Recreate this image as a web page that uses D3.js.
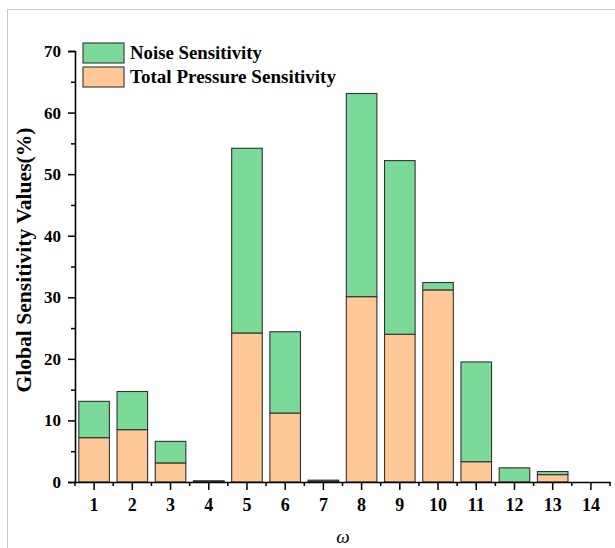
<!DOCTYPE html>
<html>
<head>
<meta charset="utf-8">
<script src="https://cdn.jsdelivr.net/npm/d3@7/dist/d3.min.js"></script>
<style>
  html, body { margin: 0; padding: 0; background: #fff; }
  svg { display: block; }
  text { font-family: "Liberation Serif", "Times New Roman", serif; }
</style>
</head>
<body>
<svg id="chart" width="615" height="548"></svg>
<script>
// ω settings on the x axis
const categories = ["1", "2", "3", "4", "5", "6", "7", "8", "9", "10", "11", "12", "13", "14"];
// Total pressure sensitivity share (%), lower segment
const pressureValues = [7.2, 8.5, 3.1, 0.1, 24.2, 11.2, 0.1, 30.1, 24.0, 31.2, 3.3, 0.0, 1.2, 0.0];
// Noise sensitivity share (%), stacked on top
const noiseValues = [5.9, 6.2, 3.5, 0.1, 30.0, 13.2, 0.2, 33.0, 28.2, 1.2, 16.2, 2.3, 0.5, 0.0];
const yTicks = [0, 10, 20, 30, 40, 50, 60, 70];
const seriesNames = ["Total Pressure Sensitivity", "Noise Sensitivity"];
const seriesColors = ["#ffc896", "#7bd99a"];

const svg = d3.select("#chart");
const plotLeft = 75, plotRight = 610, plotTop = 51, plotBottom = 482;

// light frame around the figure
svg.append("path")
  .attr("d", "M7.5,548 V9.5 H615")
  .attr("fill", "none").attr("stroke", "#c8c8c8").attr("stroke-width", 1);

const x = d3.scaleBand().domain(categories).range([plotLeft, plotRight]).padding(0);
const y = d3.scaleLinear().domain([0, 70]).range([plotBottom, plotTop]);

const rows = categories.map((c, i) => ({
  cat: c,
  pressure: pressureValues[i],
  noise: noiseValues[i]
}));
const stacked = d3.stack().keys(["pressure", "noise"])(rows);

const barW = x.bandwidth() * 0.8;
svg.append("g").selectAll("g")
  .data(stacked).join("g")
  .attr("fill", (d, i) => seriesColors[i])
  .selectAll("rect")
  .data(d => d).join("rect")
  .attr("x", d => x(d.data.cat) + (x.bandwidth() - barW) / 2)
  .attr("width", barW)
  .attr("y", d => y(d[1]))
  .attr("height", d => Math.max(0, y(d[0]) - y(d[1])))
  .attr("stroke", "#333")
  .attr("stroke-width", 1.1);

// y axis: major ticks every 10, minor every 5
const yAxis = svg.append("g").attr("transform", `translate(${plotLeft},0)`)
  .call(d3.axisLeft(y).tickValues(yTicks).tickSize(7).tickPadding(7).tickFormat(d3.format("d")));
svg.append("g").attr("transform", `translate(${plotLeft},0)`)
  .call(d3.axisLeft(y).tickValues([5, 15, 25, 35, 45, 55, 65]).tickSize(4).tickFormat(""))
  .call(g => g.select(".domain").remove());

// x axis: ticks at category centres, minor ticks at boundaries
const xAxis = svg.append("g").attr("transform", `translate(0,${plotBottom})`)
  .call(d3.axisBottom(x).tickSize(8).tickPadding(8).tickSizeOuter(0));
const bounds = d3.range(categories.length + 1).map(i => plotLeft + i * x.step());
svg.append("g").selectAll("line").data(bounds).join("line")
  .attr("x1", d => d).attr("x2", d => d)
  .attr("y1", plotBottom).attr("y2", plotBottom + 4)
  .attr("stroke", "#000").attr("stroke-width", 1.5);

[[yAxis, 17], [xAxis, 18]].forEach(([g, fs]) => {
  g.selectAll(".domain").attr("stroke", "#000").attr("stroke-width", 1.6);
  g.selectAll(".tick text")
    .attr("font-family", "Liberation Serif, serif")
    .attr("font-weight", "bold")
    .attr("font-size", fs)
    .attr("fill", "#000");
});
svg.selectAll("g .tick line").attr("stroke", "#000").attr("stroke-width", 1.5);

// axis titles
svg.append("text")
  .attr("transform", "translate(31,260) rotate(-90)")
  .attr("text-anchor", "middle")
  .attr("font-size", 20).attr("font-weight", "bold")
  .attr("textLength", 265).attr("lengthAdjust", "spacingAndGlyphs")
  .text("Global Sensitivity Values(%)");

svg.append("text")
  .attr("x", 343).attr("y", 543)
  .attr("text-anchor", "middle")
  .attr("font-size", 19).attr("font-style", "italic")
  .text("ω");

// legend
const legend = [
  { name: seriesNames[1], color: seriesColors[1], yy: 43, len: 132 },
  { name: seriesNames[0], color: seriesColors[0], yy: 67, len: 206 }
];
const lg = svg.append("g").selectAll("g").data(legend).join("g");
lg.append("rect")
  .attr("x", 83).attr("y", d => d.yy).attr("width", 41).attr("height", 20)
  .attr("fill", d => d.color).attr("stroke", "#333").attr("stroke-width", 1.1);
lg.append("text")
  .attr("x", 130).attr("y", d => d.yy + 16)
  .attr("font-size", 18).attr("font-weight", "bold")
  .attr("textLength", d => d.len).attr("lengthAdjust", "spacingAndGlyphs")
  .text(d => d.name);
</script>
</body>
</html>
